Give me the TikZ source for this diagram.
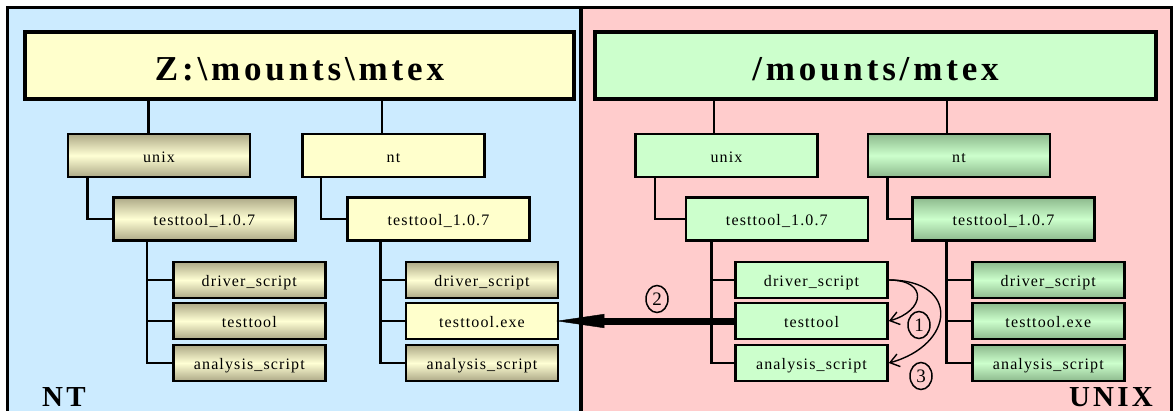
\documentclass[tikz,border=0pt]{standalone}
\usepackage{fontspec}
\setmainfont{Liberation Serif}
\newfontfamily\labelfont{Liberation Serif}[LetterSpace=7]
\newfontfamily\headfont{Liberation Serif}[LetterSpace=11]
\usetikzlibrary{arrows.meta,shapes.geometric}

\definecolor{ntbg}{HTML}{CCEBFF}
\definecolor{unixbg}{HTML}{FFCCCC}
\definecolor{paleyellow}{HTML}{FFFFCC}
\definecolor{olivedark}{HTML}{ADA987}
\definecolor{olivelight}{HTML}{FFFFD4}
\definecolor{palegreen}{HTML}{CCFFCC}
\definecolor{greendark}{HTML}{8DB98D}

\tikzset{
  dirbox/.style={draw=black, line width=2.6pt, inner sep=0pt,
    text height=13pt, text depth=0pt,
    font=\labelfont\fontsize{16}{18}\selectfont},
  topbox/.style={dirbox, minimum width=182pt, minimum height=43pt},
  leafbox/.style={dirbox, minimum width=152pt, minimum height=36pt},
  rootbox/.style={draw=black, line width=4.5pt, inner sep=0pt,
    minimum height=67pt, text height=30pt, text depth=0pt,
    font=\headfont\bfseries\fontsize{35}{40}\selectfont},
  yellowfill/.style={fill=paleyellow},
  olivefill/.style={top color=olivedark, bottom color=olivedark, middle color=olivelight},
  greenfill/.style={fill=palegreen},
  darkgreenfill/.style={top color=greendark, bottom color=greendark, middle color=palegreen},
  link/.style={line width=2.5pt},
  osname/.style={inner sep=0pt, font=\headfont\bfseries\fontsize{29}{32}\selectfont},
  stepnum/.style={ellipse, draw=black, line width=1.5pt, inner sep=0pt,
    minimum width=22pt, minimum height=27pt,
    font=\fontsize{19}{20}\selectfont},
  callarrow/.style={line width=1.4pt, -{Straight Barb[length=9pt,width=13pt]}},
  copyarrow/.style={line width=7pt,
    -{Triangle[length=48pt,width=14pt,line width=0.4pt]}}
}

\begin{document}
\begin{tikzpicture}[x=1pt,y=-1pt]
  \useasboundingbox (0,0) rectangle (1175,410);
  \clip (0,0) rectangle (1175,410);

  % the two panels
  \fill[ntbg] (7,7) rectangle (581,425);
  \fill[unixbg] (581,7) rectangle (1171,425);
  \draw[line width=3pt] (7,7) rectangle (1171,425);
  \draw[line width=3.5pt] (581,7) -- (581,425);

  % ---------- NT side ----------
  \node[rootbox, yellowfill, minimum width=549pt] (rootL) at (299.5,65.5) {Z:\textbackslash mounts\textbackslash mtex};

  \node[topbox, olivefill] (unixL) at (159,155.5) {unix};
  \node[topbox, yellowfill] (ntL) at (393.5,155.5) {nt};
  \node[topbox, olivefill] (verUL) at (204.3,219) {testtool\_1.0.7};
  \node[topbox, yellowfill] (verNL) at (438.5,219) {testtool\_1.0.7};

  \node[leafbox, olivefill] (drvUL) at (249.3,280) {driver\_script};
  \node[leafbox, olivefill] (toolUL) at (249.3,321) {testtool};
  \node[leafbox, olivefill] (anaUL) at (249.3,363) {analysis\_script};

  \node[leafbox, olivefill] (drvNL) at (482,280) {driver\_script};
  \node[leafbox, yellowfill] (exeNL) at (482,321) {testtool.exe};
  \node[leafbox, olivefill] (anaNL) at (482,363) {analysis\_script};

  \draw[link] ([xshift=-10.3pt]unixL.north) -- ([xshift=-10.3pt]unixL.north |- rootL.south);
  \draw[link] ([xshift=-11.5pt]ntL.north) -- ([xshift=-11.5pt]ntL.north |- rootL.south);
  \draw[link] ([xshift=21pt]unixL.south west) |- (verUL.west);
  \draw[link] ([xshift=20pt]ntL.south west) |- (verNL.west);
  \draw[link] ([xshift=35pt]verUL.south west) |- (drvUL.west);
  \draw[link] ([xshift=35pt]verUL.south west) |- (toolUL.west);
  \draw[link] ([xshift=35pt]verUL.south west) |- (anaUL.west);
  \draw[link] ([xshift=34.5pt]verNL.south west) |- (drvNL.west);
  \draw[link] ([xshift=34.5pt]verNL.south west) |- (exeNL.west);
  \draw[link] ([xshift=34.5pt]verNL.south west) |- (anaNL.west);

  \node[osname, anchor=base west] (ntname) at (42,406) {NT};

  % ---------- UNIX side ----------
  \node[rootbox, greenfill, minimum width=561pt] (rootR) at (875.5,65.5) {/mounts/mtex};

  \node[topbox, greenfill] (unixR) at (726.5,155.5) {unix};
  \node[topbox, darkgreenfill] (ntR) at (959,155.5) {nt};
  \node[topbox, greenfill] (verUR) at (776.8,219) {testtool\_1.0.7};
  \node[topbox, darkgreenfill] (verNR) at (1003.5,219) {testtool\_1.0.7};

  \node[leafbox, greenfill] (drvUR) at (811.5,280) {driver\_script};
  \node[leafbox, greenfill] (toolUR) at (811.5,321) {testtool};
  \node[leafbox, greenfill] (anaUR) at (811.5,363) {analysis\_script};

  \node[leafbox, darkgreenfill] (drvNR) at (1048.3,280) {driver\_script};
  \node[leafbox, darkgreenfill] (exeNR) at (1048.3,321) {testtool.exe};
  \node[leafbox, darkgreenfill] (anaNR) at (1048.3,363) {analysis\_script};

  \draw[link] ([xshift=-12.5pt]unixR.north) -- ([xshift=-12.5pt]unixR.north |- rootR.south);
  \draw[link] ([xshift=-12pt]ntR.north) -- ([xshift=-12pt]ntR.north |- rootR.south);
  \draw[link] ([xshift=21pt]unixR.south west) |- (verUR.west);
  \draw[link] ([xshift=21pt]ntR.south west) |- (verNR.west);
  \draw[link] ([xshift=27pt]verUR.south west) |- (drvUR.west);
  \draw[link] ([xshift=27pt]verUR.south west) |- (toolUR.west);
  \draw[link] ([xshift=27pt]verUR.south west) |- (anaUR.west);
  \draw[link] ([xshift=35.5pt]verNR.south west) |- (drvNR.west);
  \draw[link] ([xshift=35.5pt]verNR.south west) |- (exeNR.west);
  \draw[link] ([xshift=35.5pt]verNR.south west) |- (anaNR.west);

  \node[osname, anchor=base east] (unixname) at (1153,406) {UNIX};

  % ---------- steps ----------
  \draw[copyarrow] (toolUR.west) -- ([xshift=-3pt]exeNL.east);
  \draw[callarrow] (drvUR.east) .. controls +(40,0) and +(36,-10) .. (toolUR.east);
  \draw[callarrow] (drvUR.east) .. controls +(72,0) and +(66,-18) .. (anaUR.east);

  \node[stepnum] (step2) at (657,299) {2};
  \node[stepnum] (step1) at (919,325) {1};
  \node[stepnum] (step3) at (921,376) {3};
\end{tikzpicture}
\end{document}
